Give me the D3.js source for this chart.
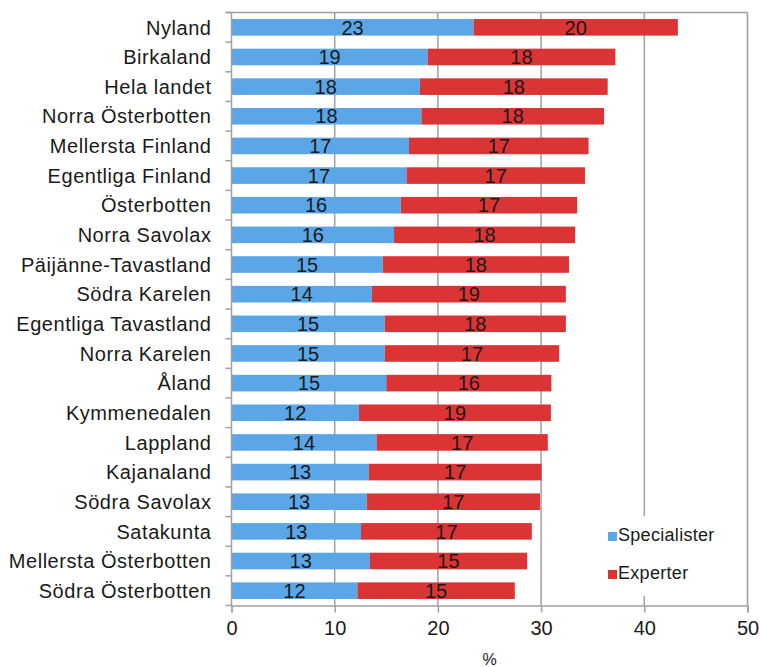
<!DOCTYPE html>
<html>
<head>
<meta charset="utf-8">
<script src="https://cdn.jsdelivr.net/npm/d3@7"></script>
<style>
  body { margin: 0; background: #fff; }
  text { font-family: "Liberation Sans", Arial, sans-serif; fill: #1a1a1a; }
</style>
</head>
<body>
<svg id="chart"></svg>
<script>
// regions, top to bottom
const regions = ["Nyland", "Birkaland", "Hela landet", "Norra Österbotten", "Mellersta Finland",
	"Egentliga Finland", "Österbotten", "Norra Savolax", "Päijänne-Tavastland", "Södra Karelen",
	"Egentliga Tavastland", "Norra Karelen", "Åland", "Kymmenedalen", "Lappland",
	"Kajanaland", "Södra Savolax", "Satakunta", "Mellersta Österbotten", "Södra Österbotten"];

const specialister = [23.45, 19.0, 18.25, 18.4, 17.2, 16.95, 16.4, 15.75, 14.65, 13.6,
	14.85, 14.85, 15.0, 12.35, 14.05, 13.3, 13.1, 12.55, 13.4, 12.2];

const experter = [19.8, 18.2, 18.2, 17.7, 17.4, 17.3, 17.1, 17.55, 18.05, 18.8,
	17.55, 16.9, 16.0, 18.6, 16.6, 16.75, 16.8, 16.55, 15.25, 15.25];

const seriesNames = ["Specialister", "Experter"];
const colors = ["#5AA6E7", "#DA3435"];
const xTicks = [0, 10, 20, 30, 40, 50];

let canvas = {"width": 760, "height": 667,
	"left": 231.5, "right": 747.5, "top": 12.5, "bottom": 605.5};

const svg = d3.select("#chart")
	.attr("width", canvas.width)
	.attr("height", canvas.height);

const xScale = d3.scaleLinear()
	.domain([0, 50])
	.range([canvas.left, canvas.right]);

const yScale = d3.scaleBand()
	.domain(regions)
	.range([canvas.top, canvas.bottom])
	.paddingInner(0.44)
	.paddingOuter(0.22);

const gridColor = "#a0a0a0";

// vertical gridlines
svg.selectAll(".grid")
	.data(xTicks.slice(1))
	.join("line")
	.attr("class", "grid")
	.attr("x1", d => xScale(d))
	.attr("x2", d => xScale(d))
	.attr("y1", canvas.top)
	.attr("y2", canvas.bottom)
	.attr("stroke", gridColor)
	.attr("stroke-width", 1.5);

// top border
svg.append("line")
	.attr("x1", canvas.left - 6).attr("x2", canvas.right)
	.attr("y1", canvas.top).attr("y2", canvas.top)
	.attr("stroke", gridColor).attr("stroke-width", 1.5);

// stacked bars
let rows = regions.map((r, i) => ({region: r, s: specialister[i], e: experter[i]}));

svg.selectAll(".spec")
	.data(rows)
	.join("rect")
	.attr("class", "spec")
	.attr("x", xScale(0))
	.attr("y", d => yScale(d.region))
	.attr("width", d => xScale(d.s) - xScale(0))
	.attr("height", yScale.bandwidth())
	.attr("fill", colors[0]);

svg.selectAll(".exp")
	.data(rows)
	.join("rect")
	.attr("class", "exp")
	.attr("x", d => xScale(d.s))
	.attr("y", d => yScale(d.region))
	.attr("width", d => xScale(d.s + d.e) - xScale(d.s))
	.attr("height", yScale.bandwidth())
	.attr("fill", colors[1]);

const fmt = d3.format(".0f");

svg.selectAll(".specLabel")
	.data(rows)
	.join("text")
	.attr("class", "specLabel")
	.text(d => fmt(d.s))
	.attr("x", d => (xScale(0) + xScale(d.s)) / 2)
	.attr("y", d => yScale(d.region) + yScale.bandwidth() / 2)
	.attr("dy", "0.36em")
	.attr("text-anchor", "middle")
	.attr("font-size", 20);

svg.selectAll(".expLabel")
	.data(rows)
	.join("text")
	.attr("class", "expLabel")
	.text(d => fmt(d.e))
	.attr("x", d => (xScale(d.s) + xScale(d.s + d.e)) / 2)
	.attr("y", d => yScale(d.region) + yScale.bandwidth() / 2)
	.attr("dy", "0.36em")
	.attr("text-anchor", "middle")
	.attr("font-size", 20);

// left axis: line, ticks between categories, labels
svg.append("line")
	.attr("x1", canvas.left).attr("x2", canvas.left)
	.attr("y1", canvas.top).attr("y2", canvas.bottom)
	.attr("stroke", gridColor).attr("stroke-width", 1.5);

let step = yScale.step();
svg.selectAll(".ytick")
	.data(d3.range(regions.length + 1))
	.join("line")
	.attr("class", "ytick")
	.attr("x1", canvas.left - 6)
	.attr("x2", canvas.left)
	.attr("y1", i => canvas.top + i * step)
	.attr("y2", i => canvas.top + i * step)
	.attr("stroke", gridColor)
	.attr("stroke-width", 1.5);

svg.selectAll(".region")
	.data(regions)
	.join("text")
	.attr("class", "region")
	.text(d => d)
	.attr("x", canvas.left - 20)
	.attr("y", d => yScale(d) + yScale.bandwidth() / 2)
	.attr("dy", "0.36em")
	.attr("text-anchor", "end")
	.attr("letter-spacing", 0.55)
	.attr("font-size", 20);

// bottom axis
const xAxis = svg.append("g")
	.attr("transform", `translate(0, ${canvas.bottom})`)
	.call(d3.axisBottom(xScale).tickValues(xTicks).tickSize(7).tickPadding(8));

xAxis.select(".domain").attr("stroke", gridColor).attr("stroke-width", 1.5);
xAxis.selectAll(".tick line").attr("stroke", gridColor).attr("stroke-width", 1.5);
xAxis.selectAll(".tick text")
	.attr("font-size", 20)
	.attr("font-family", "Liberation Sans, Arial, sans-serif")
	.attr("fill", "#1a1a1a");

svg.append("text")
	.text("%")
	.attr("x", (canvas.left + canvas.right) / 2)
	.attr("y", 665)
	.attr("text-anchor", "middle")
	.attr("font-size", 16);

// legend, white box over the gridlines
svg.append("rect")
	.attr("x", 603).attr("y", 516)
	.attr("width", 135).attr("height", 80)
	.attr("fill", "#fff");

const legend = svg.selectAll(".legend")
	.data(seriesNames)
	.join("g")
	.attr("class", "legend")
	.attr("transform", (d, i) => `translate(608, ${532 + i * 38})`);

legend.append("rect")
	.attr("width", 9)
	.attr("height", 9)
	.attr("fill", (d, i) => colors[i]);

legend.append("text")
	.text(d => d)
	.attr("x", 10)
	.attr("y", 9)
	.attr("letter-spacing", 0.3)
	.attr("font-size", 18);
</script>
</body>
</html>
